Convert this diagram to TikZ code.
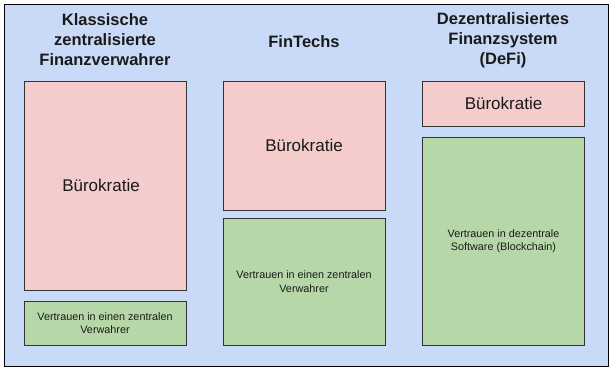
\documentclass[tikz,border=0pt]{standalone}
\usepackage{fontspec}
\setmainfont{Liberation Sans}
\definecolor{bgblue}{HTML}{C9DAF8}
\definecolor{boxpink}{HTML}{F4CCCC}
\definecolor{boxgreen}{HTML}{B6D7A8}
\definecolor{edge}{HTML}{333333}
\definecolor{txt}{HTML}{1A1A1A}
\begin{document}
\begin{tikzpicture}[x=1pt,y=-1pt,
  title/.style={font=\fontsize{16.5}{20}\selectfont\bfseries, text=txt, align=center, inner sep=0pt},
  pinkbox/.style={draw=edge, line width=0.9pt, fill=boxpink, inner sep=0pt, align=center,
    font=\fontsize{17}{20}\selectfont, text=txt},
  greenbox/.style={draw=edge, line width=0.9pt, fill=boxgreen, inner sep=0pt, align=center,
    font=\fontsize{10.8}{13.5}\selectfont, text=txt}]
\useasboundingbox (0,0) rectangle (614,370);
\fill[white] (0,0) rectangle (614,370);
\node[draw=black, line width=1pt, fill=bgblue, minimum width=603.5pt, minimum height=361.5pt, inner sep=0pt] (frame) at (306.25,185.25) {};
% titles
\node[title] (t1) at (105,40) {Klassische\\zentralisierte\\Finanzverwahrer};
\node[title] (t2) at (304,42) {FinTechs};
\node[title] (t3) at (503,40) {Dezentralisiertes\\Finanzsystem\\(DeFi)};
% column 1
\node[pinkbox, minimum width=162pt, minimum height=209pt] (p1) at (105,185.5) {};
\node[font=\fontsize{17}{20}\selectfont, text=txt, inner sep=0pt] (p1text) at (101,185.5) {Bürokratie};
\node[greenbox, minimum width=162pt, minimum height=44pt] (g1) at (105,323) {Vertrauen in einen zentralen\\Verwahrer};
% column 2
\node[pinkbox, minimum width=162pt, minimum height=129pt] (p2) at (304,145.5) {Bürokratie};
\node[greenbox, minimum width=162pt, minimum height=127pt] (g2) at (304,281.5) {Vertrauen in einen zentralen\\Verwahrer};
% column 3
\node[pinkbox, minimum width=162pt, minimum height=45pt] (p3) at (503.5,103.5) {Bürokratie};
\node[greenbox, minimum width=162pt, minimum height=208pt] (g3) at (503.5,241) {Vertrauen in dezentrale\\Software (Blockchain)};
\end{tikzpicture}
\end{document}
